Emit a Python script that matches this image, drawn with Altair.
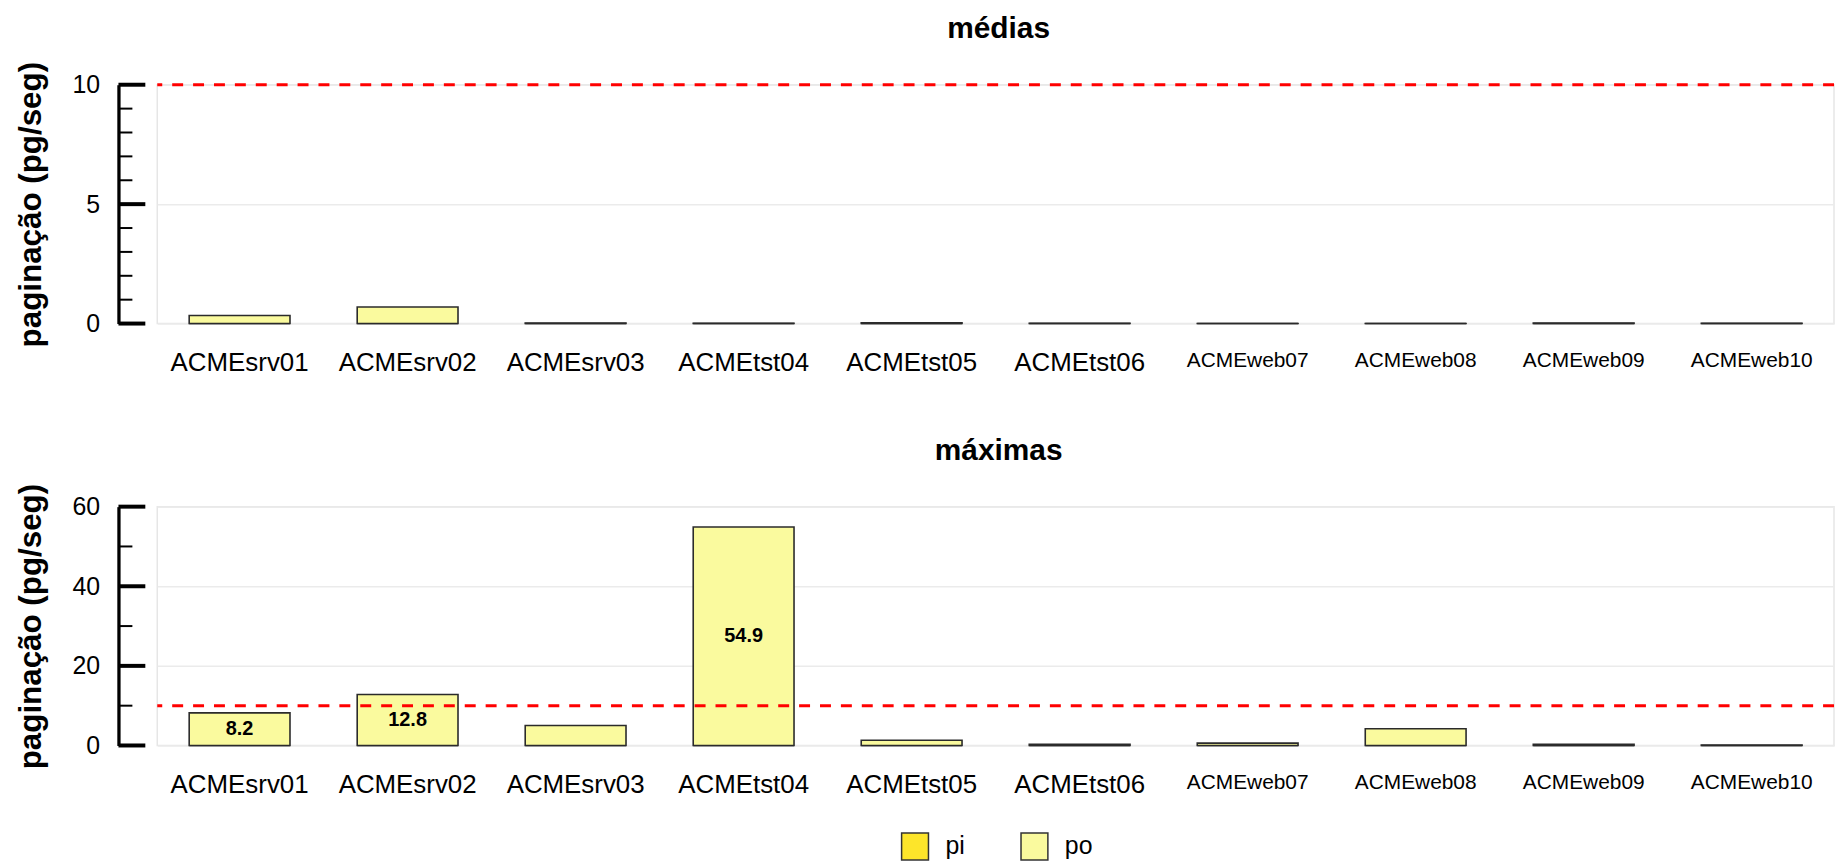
import altair as alt
import pandas as pd

# ---- data ----
hosts = ["ACMEsrv01", "ACMEsrv02", "ACMEsrv03", "ACMEtst04", "ACMEtst05",
         "ACMEtst06", "ACMEweb07", "ACMEweb08", "ACMEweb09", "ACMEweb10"]
series = ["pi", "po"]
series_colors = ["#FDE52A", "#FAFA9E"]

media_pi = [0, 0, 0, 0, 0, 0, 0, 0, 0, 0]
media_po = [0.34, 0.69, 0.02, 0.01, 0.03, 0.01, 0.005, 0.005, 0.02, 0.01]
max_pi = [0, 0, 0, 0, 0, 0, 0, 0, 0, 0]
max_po = [8.2, 12.8, 5.0, 54.9, 1.3, 0.3, 0.6, 4.2, 0.3, 0.1]

limite = 10
media_ticks_major = [0, 5, 10]
media_ticks_minor = [1, 2, 3, 4, 6, 7, 8, 9]
max_ticks_major = [0, 20, 40, 60]
max_ticks_minor = [10, 30, 50]

FONT = "Liberation Sans"
PLOT_W = 1685
PLOT_H = 240
AX_OFF = 39


def panel(title, pi_vals, po_vals, ymax, major, minor):
    rows = []
    for h, a, b in zip(hosts, pi_vals, po_vals):
        rows.append({"host": h, "serie": "pi", "valor": a})
        rows.append({"host": h, "serie": "po", "valor": b})
    df = pd.DataFrame(rows)
    tot = pd.DataFrame({"host": hosts,
                        "total": [a + b for a, b in zip(pi_vals, po_vals)]})
    yscale = alt.Scale(domain=[0, ymax], nice=False, zero=True)
    yaxis = alt.Axis(
        values=major, title="paginação (pg/seg)",
        titleFont=FONT, titleFontSize=31.5, titleFontWeight="bold",
        titleColor="black", titlePadding=25,
        labelFont=FONT, labelFontSize=25, labelColor="black",
        labelPadding=19, ticks=False, tickSize=0, domain=True,
        domainColor="black", domainWidth=3.3, offset=AX_OFF,
        grid=True, gridColor="#ebebeb", gridWidth=1.5,
    )
    xenc = alt.X(
        "host:N", sort=hosts,
        scale=alt.Scale(paddingInner=0.4, paddingOuter=0.19),
        axis=alt.Axis(
            title=None, labelAngle=0, ticks=False, tickSize=0, domain=False,
            grid=False, labelFont=FONT, labelColor="black", labelPadding=26,
            labelFontSize={"condition": {"test": "indexof(datum.value, 'web') >= 0",
                                         "value": 21},
                           "value": 26},
        ),
    )
    bars = alt.Chart(df).mark_bar(stroke="#2b2b2b", strokeWidth=1.6).encode(
        x=xenc,
        y=alt.Y("valor:Q", stack="zero", scale=yscale, axis=yaxis),
        color=alt.Color(
            "serie:N", scale=alt.Scale(domain=series, range=series_colors),
            legend=alt.Legend(
                title=None, orient="none", direction="horizontal",
                legendX=747, legendY=751,
                symbolType="square", symbolSize=729,
                symbolStrokeColor="#333333", symbolStrokeWidth=1.5,
                symbolOpacity=1,
                labelFont=FONT, labelFontSize=25, labelColor="black",
                labelOffset=16, columnPadding=53,
            )),
        order=alt.Order("serie:N", sort="ascending"),
    )
    tick_major = alt.Chart(pd.DataFrame({"v": major})).mark_rule(
        color="black", strokeWidth=4).encode(
        y=alt.Y("v:Q", scale=yscale, axis=yaxis),
        x=alt.value(-AX_OFF), x2=alt.value(-12))
    tick_minor = alt.Chart(pd.DataFrame({"v": minor})).mark_rule(
        color="black", strokeWidth=2).encode(
        y=alt.Y("v:Q", scale=yscale, axis=yaxis),
        x=alt.value(-AX_OFF), x2=alt.value(-25))
    thresh = alt.Chart(pd.DataFrame({"limite": [limite]})).mark_rule(
        color="#ff0000", strokeWidth=3, strokeDash=[11, 10]).encode(
        y=alt.Y("limite:Q", scale=yscale, axis=yaxis))
    labels = alt.Chart(tot).transform_filter("datum.total >= 6").transform_calculate(
        meio="datum.total / 2").mark_text(
        font=FONT, fontSize=20, fontWeight="bold", color="black",
        baseline="middle").encode(
        x=alt.X("host:N", sort=hosts),
        y=alt.Y("meio:Q", scale=yscale, axis=yaxis),
        text=alt.Text("total:Q", format=".1f"))
    return alt.layer(bars, thresh, labels, tick_major, tick_minor).properties(
        width=PLOT_W, height=PLOT_H,
        title=alt.TitleParams(title, anchor="middle", frame="group", font=FONT,
                              fontSize=30, fontWeight="bold", color="black",
                              offset=17, dx=3),
    )


top = panel("médias", media_pi, media_po, 10, media_ticks_major, media_ticks_minor)
bottom = panel("máximas", max_pi, max_po, 60, max_ticks_major, max_ticks_minor)

chart = alt.vconcat(top, bottom, spacing=59).properties(
    padding={"top": 3, "left": 6, "right": 0, "bottom": 0}
).configure_view(stroke="#e6e6e6", strokeWidth=1.5)

chart.save("out.html", embed_options={"renderer": "svg", "actions": False})
